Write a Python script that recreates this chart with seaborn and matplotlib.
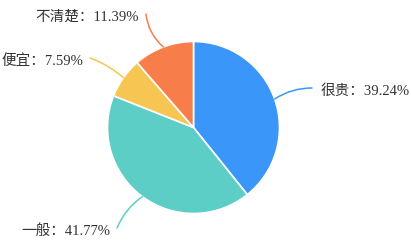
import numpy as np
import matplotlib
matplotlib.use("Agg")
import matplotlib.pyplot as plt
import seaborn as sns

categories = ["很贵", "一般", "便宜", "不清楚"]
values = [39.24, 41.77, 7.59, 11.39]
colors = ["#3a96f9", "#5ccec6", "#f6c552", "#f77d4b"]

sns.set_style("white")
plt.rcParams['font.family'] = ['Liberation Serif', 'Noto Sans CJK SC', 'DejaVu Sans']

W, H = 411, 244
fig = plt.figure(figsize=(W / 100, H / 100), dpi=100)
ax = fig.add_axes([0, 0, 1, 1])

cx, cy, r = 193.5, H - 127.5, 86
wedges, _ = ax.pie(values, colors=colors, startangle=90, counterclock=False,
                   center=(cx, cy), radius=r, frame=True,
                   wedgeprops=dict(edgecolor='white', linewidth=1.2))
ax.set_xlim(0, W)
ax.set_ylim(0, H)
ax.set_aspect('equal')
ax.axis('off')

# label layout: (line end x, line end y in pixels from top, text side, arc rad)
layout = [
    (312, 88, 'left', 0.15),
    (117, 228, 'right', -0.15),
    (90, 58, 'right', -0.1),
    (146, 14, 'right', 0.2),
]

for w, cat, v, col, (ex, ey, side, rad) in zip(wedges, categories, values, colors, layout):
    ang = np.deg2rad((w.theta1 + w.theta2) / 2)
    sx = cx + r * np.cos(ang)
    sy = cy + r * np.sin(ang)
    ax.annotate("", xy=(sx, sy), xytext=(ex, H - ey),
                arrowprops=dict(arrowstyle='-', color=col, lw=1.1,
                                connectionstyle=f"arc3,rad={rad}",
                                shrinkA=0, shrinkB=0))
    tx = ex + 9 if side == 'left' else ex - 7
    ax.text(tx, H - ey - 3, f"{cat}：{v:.2f}%", ha=side, va='center',
            fontsize=10.5, color='#333333')

fig.savefig("out.png", dpi=100, facecolor='white')
